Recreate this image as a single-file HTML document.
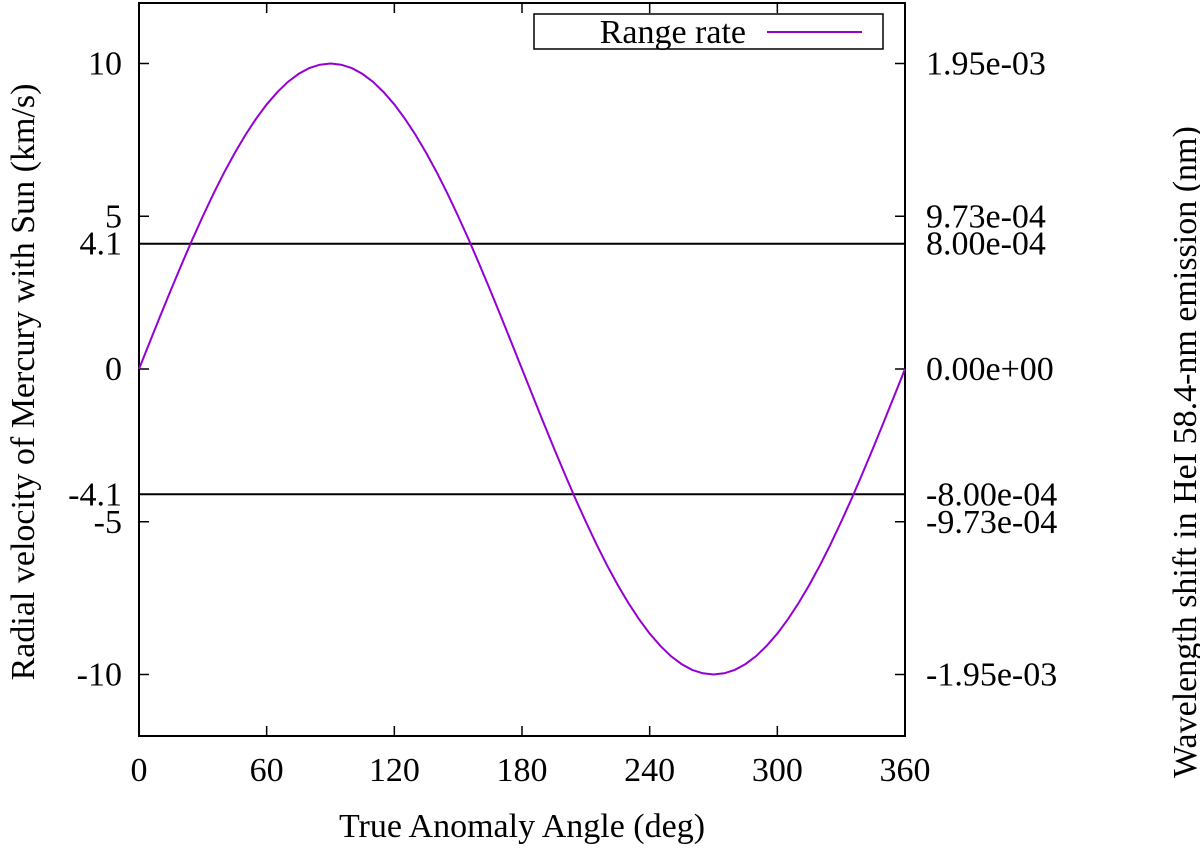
<!DOCTYPE html>
<html><head><meta charset="utf-8"><style>
body{margin:0;background:#fff}
svg text{font-family:"Liberation Serif",serif;font-size:34px;fill:#000}
</style></head><body>
<svg id="c" width="1200" height="848">
<g id="g"></g>
</svg>
<script>
const xTicks=[0,60,120,180,240,300,360];
const yTicks=[10,5,4.1,0,-4.1,-5,-10];
const yTickLabels=["10","5","4.1","0","-4.1","-5","-10"];
const y2Ticks=[10,5,4.1,0,-4.1,-5,-10];
const y2TickLabels=["1.95e-03","9.73e-04","8.00e-04","0.00e+00","-8.00e-04","-9.73e-04","-1.95e-03"];
const hLines=[4.1,-4.1];
const angles=[0,5,10,15,20,25,30,35,40,45,50,55,60,65,70,75,80,85,90,95,100,105,110,115,120,125,130,135,140,145,150,155,160,165,170,175,180,185,190,195,200,205,210,215,220,225,230,235,240,245,250,255,260,265,270,275,280,285,290,295,300,305,310,315,320,325,330,335,340,345,350,355,360];
const rangeRate=[0,0.87,1.74,2.59,3.42,4.23,5,5.74,6.43,7.07,7.66,8.19,8.66,9.06,9.4,9.66,9.85,9.96,10,9.96,9.85,9.66,9.4,9.06,8.66,8.19,7.66,7.07,6.43,5.74,5,4.23,3.42,2.59,1.74,0.87,0,-0.87,-1.74,-2.59,-3.42,-4.23,-5,-5.74,-6.43,-7.07,-7.66,-8.19,-8.66,-9.06,-9.4,-9.66,-9.85,-9.96,-10,-9.96,-9.85,-9.66,-9.4,-9.06,-8.66,-8.19,-7.66,-7.07,-6.43,-5.74,-5,-4.23,-3.42,-2.59,-1.74,-0.87,0];
const L=139,R=905,T=3,B=736;
const X=v=>L+(v-0)/360*(R-L);
const Y=v=>369-v*30.55;
const g=document.getElementById('g');
const NS='http://www.w3.org/2000/svg';
function mk(t,a,txt){const e=document.createElementNS(NS,t);for(const k in a)e.setAttribute(k,a[k]);if(txt!==undefined)e.textContent=txt;g.appendChild(e);return e;}
let e=mk('rect',{x:L,y:T,width:R-L,height:B-T,fill:'none',stroke:'#000','stroke-width':2});


xTicks.forEach(v=>{
 e=mk('line',{x1:X(v),x2:X(v),y1:B,y2:B-10,stroke:'#000','stroke-width':1.5});
 
 
 e=mk('line',{x1:X(v),x2:X(v),y1:T,y2:T+10,stroke:'#000','stroke-width':1.5});
 
 
 e=mk('text',{x:X(v),y:B+45,'text-anchor':'middle'},String(v));
 
 
});
yTicks.forEach((v,i)=>{
 e=mk('line',{x1:L,x2:L+10,y1:Y(v),y2:Y(v),stroke:'#000','stroke-width':1.5});
 
 
 e=mk('text',{x:L-17,y:Y(v)+11,'text-anchor':'end'},yTickLabels[i]);
 
 
});
y2Ticks.forEach((v,i)=>{
 e=mk('line',{x1:R-10,x2:R,y1:Y(v),y2:Y(v),stroke:'#000','stroke-width':1.5});
 
 
 e=mk('text',{x:926,y:Y(v)+11,'text-anchor':'start'},y2TickLabels[i]);
 
 
});
hLines.forEach(v=>{
 e=mk('line',{x1:L,x2:R,y1:Y(v),y2:Y(v),stroke:'#000','stroke-width':2});
 
 
});
e=mk('polyline',{points:angles.map((a,i)=>X(a)+','+Y(rangeRate[i])).join(' '),fill:'none',stroke:'#9400d3','stroke-width':2});


e=mk('rect',{x:534,y:14,width:349,height:35,fill:'#fff',stroke:'#000','stroke-width':1.5});


e=mk('text',{x:746,y:43,'text-anchor':'end'},'Range rate');


e=mk('line',{x1:767,x2:862,y1:32,y2:32,stroke:'#9400d3','stroke-width':2});


e=mk('text',{x:522,y:837,'text-anchor':'middle'},'True Anomaly Angle (deg)');


e=mk('text',{x:0,y:0,'text-anchor':'middle',transform:'translate(34,382) rotate(-90)'},'Radial velocity of Mercury with Sun (km/s)');


e=mk('text',{x:0,y:0,'text-anchor':'middle',transform:'translate(1196,452) rotate(-90)'},'Wavelength shift in HeI 58.4-nm emission (nm)');


</script>
</body></html>
